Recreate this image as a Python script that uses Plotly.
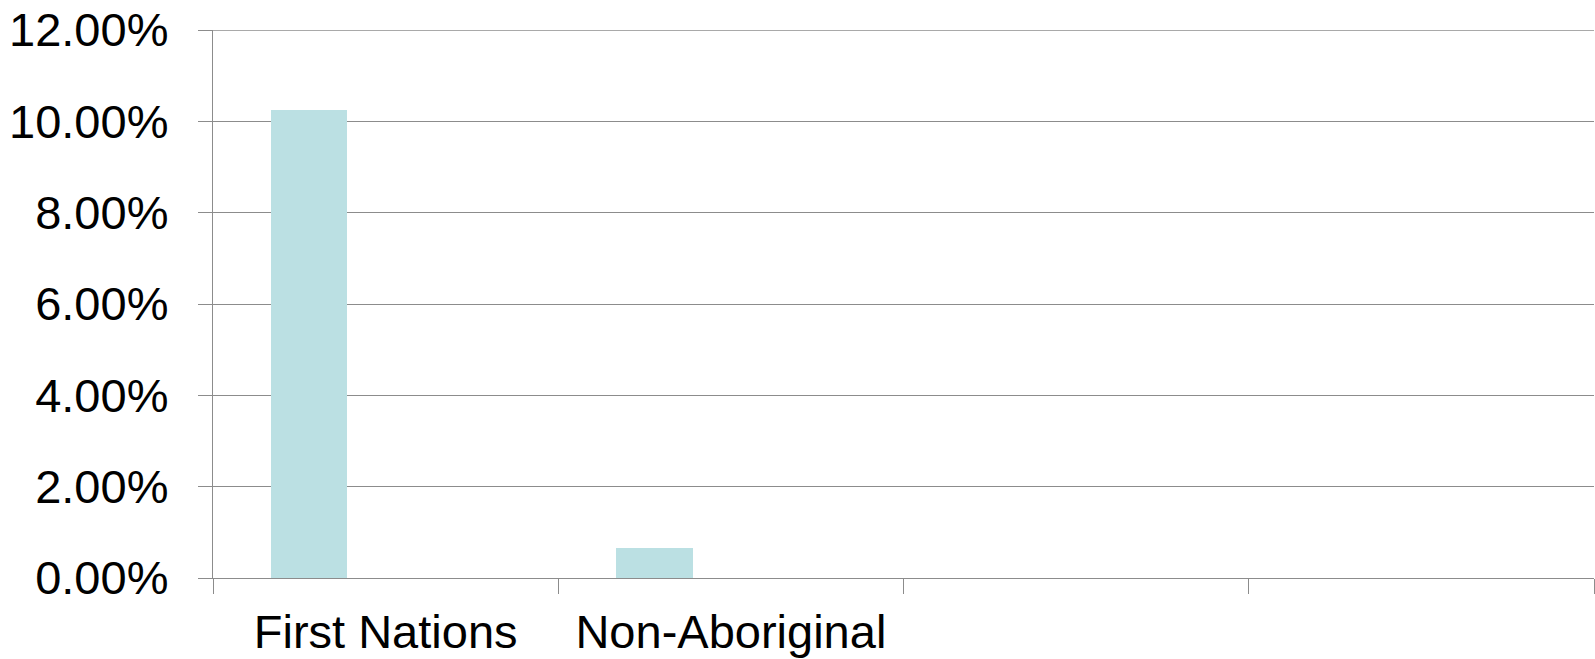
import plotly.graph_objects as go

categories = ["First Nations", "Non-Aboriginal", "\u200b", "\u200b\u200b"]
bar_categories = ["First Nations", "Non-Aboriginal"]
values = [0.1025, 0.0066]
y_ticks = [0, 0.02, 0.04, 0.06, 0.08, 0.10, 0.12]
y_max = 0.12

BAR_COLOR = "#BBE0E3"
GRID = "#8C8C8C"
FONT = "Liberation Sans, Arial, sans-serif"

fig = go.Figure()
fig.add_trace(go.Bar(
    x=bar_categories,
    y=values,
    width=0.2222,
    offset=-0.3333,
    marker=dict(color=BAR_COLOR, line=dict(width=0)),
    showlegend=False,
))

# top gridline (plotly omits the grid line at the range edge)
fig.add_shape(type="line", xref="paper", yref="y", x0=0, x1=1, y0=y_max, y1=y_max,
              line=dict(color=GRID, width=1.3), layer="below")

fig.update_layout(
    width=1595, height=659,
    margin=dict(l=213, r=1, t=30, b=81),
    paper_bgcolor="white", plot_bgcolor="white",
    font=dict(family=FONT, size=47, color="#000000"),
    xaxis=dict(
        type="category",
        categoryorder="array",
        categoryarray=categories,
        range=[-0.5, 3.5],
        tickson="boundaries",
        ticks="outside", ticklen=15, tickwidth=1.3, tickcolor=GRID,
        ticklabelstandoff=12,
        automargin=False,
        showline=True, linecolor=GRID, linewidth=1.3,
        showgrid=False, zeroline=False,
        tickfont=dict(family=FONT, size=47, color="#000000"),
    ),
    yaxis=dict(
        range=[0, y_max],
        tickvals=y_ticks,
        tickformat=".2%",
        ticks="outside", ticklen=14, tickwidth=1.3, tickcolor=GRID,
        ticklabelstandoff=20,
        automargin=False,
        showline=True, linecolor=GRID, linewidth=1.3,
        showgrid=True, gridcolor=GRID, gridwidth=1.3,
        zeroline=False,
        tickfont=dict(family=FONT, size=47, color="#000000"),
    ),
    bargap=0,
)

fig.write_html("out.html")
